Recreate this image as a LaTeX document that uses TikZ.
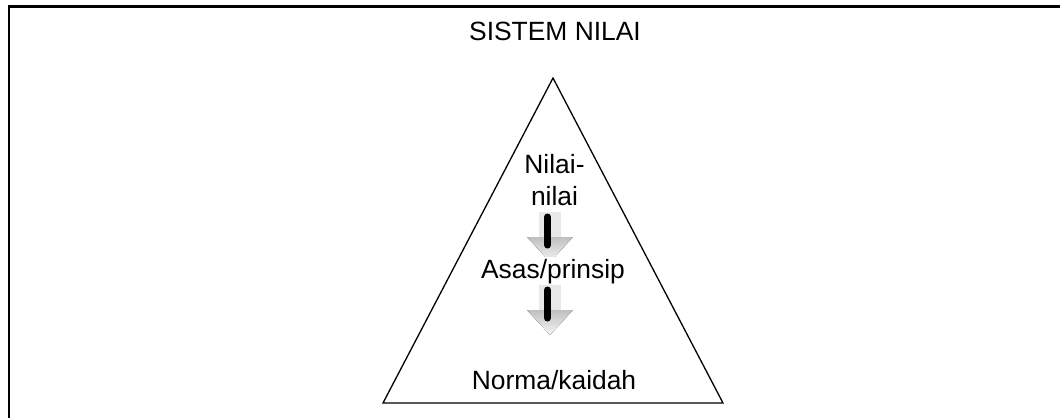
\documentclass[tikz,border=0pt]{standalone}
\usepackage{fontspec}
\setmainfont{Liberation Sans}
\begin{document}
\begin{tikzpicture}[x=1bp,y=-1bp,
  txt/.style={font=\fontsize{26.5}{33}\selectfont, inner sep=0pt, align=center},
  shaft/.style={fill=gray!18, draw=none},
  head/.style={top color=gray!50, bottom color=gray!8, draw=none},
  bar/.style={line width=7bp, line cap=round, black}]
\useasboundingbox (0,0) rectangle (1060,418);
% frame
\draw[line width=3bp] (8,6.5) -- (1060,6.5);
\draw[line width=2.2bp] (9,5) -- (9,418);
% triangle
\coordinate (apex) at (553,78);
\coordinate (bl) at (383,403);
\coordinate (br) at (723,403);
\draw[line width=1.3bp, line join=miter] (apex) -- (bl) -- (br) -- cycle;
% arrows
\foreach \t/\n in {212/a1, 285/a2}{
  \coordinate (\n) at (550,\t);
  \fill[shaft] ([xshift=-11bp]\n) rectangle ([xshift=11bp,yshift=-25bp]\n);
  \fill[head] ([xshift=-23bp,yshift=-25bp]\n) -- ([xshift=23bp,yshift=-25bp]\n) -- ([yshift=-50bp]\n) -- cycle;
  \draw[bar] ([xshift=-2.5bp,yshift=-5bp]\n) -- ([xshift=-2.5bp,yshift=-33bp]\n);
}
% texts
\node[txt, anchor=base] (title) at (555,40) {SISTEM NILAI};
\node[txt] (nilai) at (554.5,180) {Nilai-\\nilai};
\node[txt, anchor=base, fill=white, inner ysep=1.5bp] (asas) at (553,278) {Asas/prinsip};
\node[txt, anchor=base] (norma) at (554,389) {Norma/kaidah};
\end{tikzpicture}
\end{document}
